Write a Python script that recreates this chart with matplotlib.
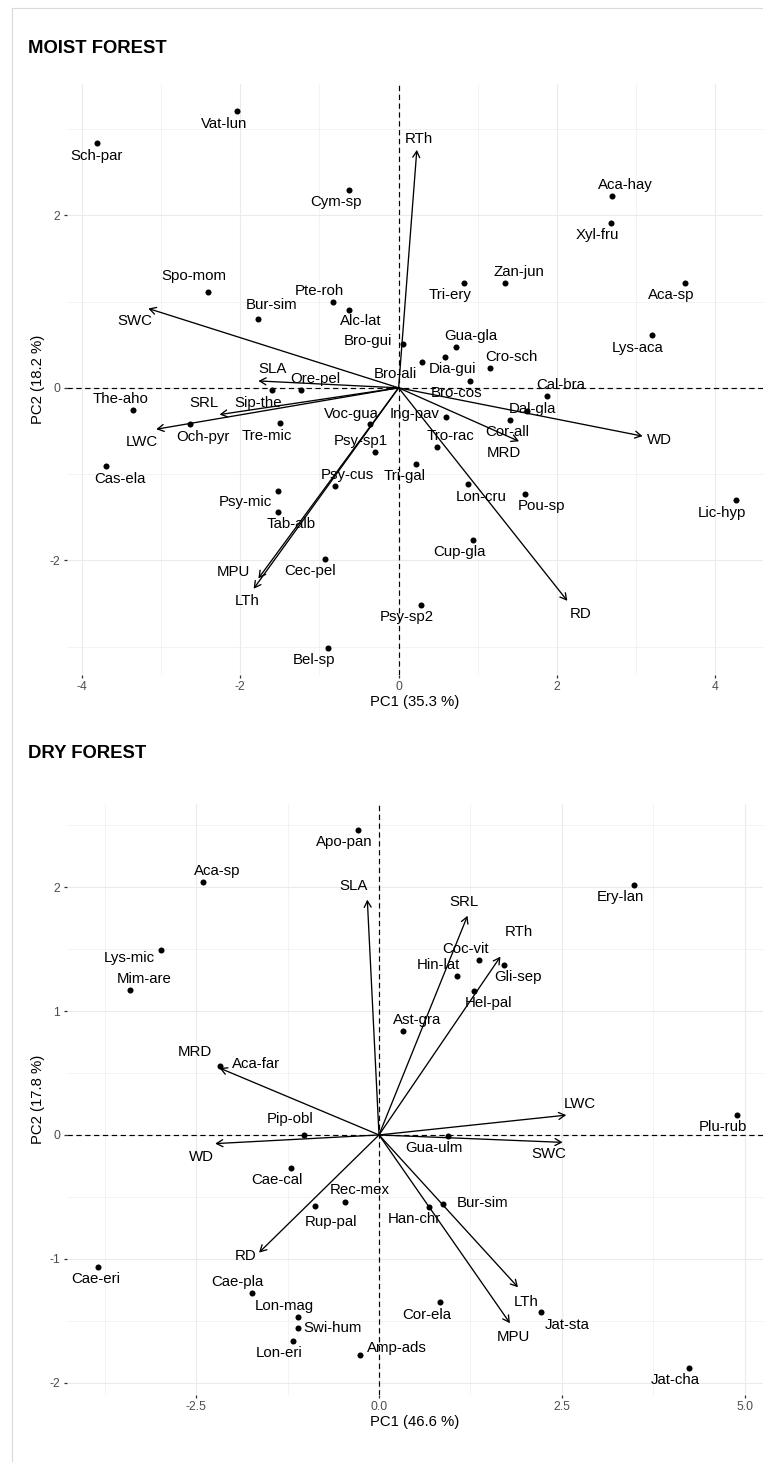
import matplotlib
matplotlib.use("Agg")
import matplotlib.pyplot as plt
from matplotlib.patches import FancyArrowPatch
from matplotlib.lines import Line2D

plt.rcParams['font.family'] = ['Liberation Sans', 'DejaVu Sans']
plt.rcParams['axes.unicode_minus'] = False

# ---------------- Moist forest PCA ----------------
moist_species = ["Vat-lun", "Sch-par", "Cym-sp", "Spo-mom", "Pte-roh", "Alc-lat", "Bur-sim",
                 "Bro-gui", "Aca-hay", "Xyl-fru", "Zan-jun", "Tri-ery", "Aca-sp", "Lys-aca",
                 "Gua-gla", "Dia-gui", "Bro-ali", "Cro-sch", "Bro-cos", "Cal-bra", "Dal-gla",
                 "Cor-all", "Ing-pav", "Tro-rac", "Tri-gal", "Lon-cru", "Pou-sp", "Lic-hyp",
                 "Cup-gla", "Psy-sp2", "Ore-pel", "Sip-the", "The-aho", "Och-pyr", "Tre-mic",
                 "Cas-ela", "Voc-gua", "Psy-sp1", "Psy-cus", "Psy-mic", "Tab-alb", "Cec-pel",
                 "Bel-sp"]
moist_pc1 = [-2.04, -3.81, -0.62, -2.41, -0.83, -0.63, -1.78,
             0.05, 2.69, 2.68, 1.34, 0.83, 3.62, 3.20,
             0.73, 0.58, 0.29, 1.15, 0.90, 1.87, 1.62,
             1.41, 0.60, 0.48, 0.22, 0.87, 1.59, 4.26,
             0.94, 0.28, -1.23, -1.60, -3.35, -2.63, -1.50,
             -3.69, -0.36, -0.30, -0.80, -1.52, -1.52, -0.93,
             -0.89]
moist_pc2 = [3.21, 2.84, 2.29, 1.11, 1.00, 0.90, 0.80,
             0.51, 2.22, 1.91, 1.21, 1.21, 1.21, 0.61,
             0.47, 0.36, 0.30, 0.23, 0.08, -0.09, -0.27,
             -0.37, -0.34, -0.69, -0.88, -1.11, -1.23, -1.30,
             -1.77, -2.52, -0.03, -0.03, -0.26, -0.42, -0.41,
             -0.91, -0.42, -0.74, -1.14, -1.20, -1.44, -1.98,
             -3.02]
moist_traits = ["RTh", "SWC", "SLA", "SRL", "LWC", "MPU", "LTh", "WD", "MRD", "RD"]
moist_trait_pc1 = [0.23, -3.16, -1.77, -2.26, -3.06, -1.77, -1.83, 3.08, 1.52, 2.13]
moist_trait_pc2 = [2.76, 0.92, 0.08, -0.31, -0.48, -2.21, -2.33, -0.56, -0.62, -2.47]
moist_var = (35.3, 18.2)
moist_xticks = [-4, -2, 0, 2, 4]
moist_xticklabels = ["-4", "-2", "0", "2", "4"]
moist_yticks = [-2, 0, 2]
moist_yticklabels = ["-2", "0", "2"]

# ---------------- Dry forest PCA ----------------
dry_species = ["Apo-pan", "Aca-sp", "Lys-mic", "Mim-are", "Aca-far", "Ery-lan", "Coc-vit",
               "Gli-sep", "Hin-lat", "Hel-pal", "Ast-gra", "Pip-obl", "Cae-cal", "Rec-mex",
               "Rup-pal", "Cae-eri", "Cae-pla", "Lon-mag", "Swi-hum", "Lon-eri", "Amp-ads",
               "Plu-rub", "Gua-ulm", "Han-chr", "Bur-sim", "Cor-ela", "Jat-sta", "Jat-cha"]
dry_pc1 = [-0.29, -2.40, -2.98, -3.40, -2.18, 3.49, 1.37,
           1.71, 1.06, 1.30, 0.33, -1.02, -1.21, -0.46,
           -0.88, -3.84, -1.74, -1.11, -1.11, -1.18, -0.26,
           4.89, 0.94, 0.68, 0.87, 0.84, 2.22, 4.24]
dry_pc2 = [2.46, 2.04, 1.49, 1.17, 0.56, 2.02, 1.41,
           1.37, 1.28, 1.16, 0.84, 0.00, -0.27, -0.54,
           -0.57, -1.07, -1.28, -1.47, -1.56, -1.66, -1.78,
           0.16, -0.01, -0.58, -0.56, -1.35, -1.43, -1.88]
dry_traits = ["SLA", "MRD", "SRL", "RTh", "LWC", "SWC", "LTh", "MPU", "WD", "RD"]
dry_trait_pc1 = [-0.16, -2.18, 1.21, 1.66, 2.56, 2.51, 1.90, 1.79, -2.24, -1.64]
dry_trait_pc2 = [1.90, 0.54, 1.77, 1.44, 0.16, -0.06, -1.23, -1.52, -0.07, -0.95]
dry_var = (46.6, 17.8)
dry_xticks = [-2.5, 0.0, 2.5, 5.0]
dry_xticklabels = ["-2.5", "0.0", "2.5", "5.0"]
dry_yticks = [-2, -1, 0, 1, 2]
dry_yticklabels = ["-2", "-1", "0", "1", "2"]

# Label placement (pixel offsets from the mark, x right / y down)
moist_label_offsets = {
    "Vat-lun": (-13, 13), "Sch-par": (0, 13), "Cym-sp": (-13, 12), "Spo-mom": (-14, -16),
    "Pte-roh": (-13, -11), "Alc-lat": (12, 11), "Bur-sim": (14, -14), "Bro-gui": (-35, -3),
    "Aca-hay": (14, -11), "Xyl-fru": (-14, 12), "Zan-jun": (14, -11), "Tri-ery": (-14, 12),
    "Aca-sp": (-14, 12), "Lys-aca": (-14, 13), "Gua-gla": (14, -11), "Dia-gui": (8, 12),
    "Bro-ali": (-26, 12), "Cro-sch": (22, -11), "Bro-cos": (-13, 12), "Cal-bra": (14, -11),
    "Dal-gla": (5, -2), "Cor-all": (-3, 12), "Ing-pav": (-32, -3), "Tro-rac": (14, -11),
    "Tri-gal": (-11, 12), "Lon-cru": (14, 13), "Pou-sp": (17, 12), "Lic-hyp": (-14, 13),
    "Cup-gla": (-14, 12), "Psy-sp2": (-14, 12), "Ore-pel": (14, -11), "Sip-the": (-14, 13),
    "The-aho": (-13, -11), "Och-pyr": (13, 13), "Tre-mic": (-13, 13), "Cas-ela": (14, 13),
    "Voc-gua": (-19, -10), "Psy-sp1": (-14, -11), "Psy-cus": (12, -11), "Psy-mic": (-33, 11),
    "Tab-alb": (13, 12), "Cec-pel": (-15, 12), "Bel-sp": (-14, 12),
}
moist_trait_offsets = {
    "RTh": (2, -11), "SWC": (-13, 12), "SLA": (14, -12), "SRL": (-16, -12), "LWC": (-14, 13),
    "MPU": (-25, -6), "LTh": (-6, 12), "WD": (17, 4), "MRD": (-15, 12), "RD": (13, 13),
}
dry_label_offsets = {
    "Apo-pan": (-14, 12), "Aca-sp": (14, -11), "Lys-mic": (-32, 8), "Mim-are": (14, -11),
    "Aca-far": (36, -2), "Ery-lan": (-14, 12), "Coc-vit": (-14, -11), "Gli-sep": (14, 12),
    "Hin-lat": (-18, -11), "Hel-pal": (14, 12), "Ast-gra": (14, -11), "Pip-obl": (-14, -16),
    "Cae-cal": (-14, 12), "Rec-mex": (14, -12), "Rup-pal": (16, 16), "Cae-eri": (-2, 12),
    "Cae-pla": (-14, -11), "Lon-mag": (-14, -11), "Swi-hum": (35, 0), "Lon-eri": (-14, 12),
    "Amp-ads": (37, -7), "Plu-rub": (-14, 12), "Gua-ulm": (-14, 12), "Han-chr": (-14, 12),
    "Bur-sim": (40, -1), "Cor-ela": (-14, 13), "Jat-sta": (26, 13), "Jat-cha": (-14, 12),
}
dry_trait_offsets = {
    "SLA": (-14, -14), "MRD": (-25, -16), "SRL": (-4, -14), "RTh": (18, -25), "LWC": (14, -11),
    "SWC": (-14, 12), "LTh": (8, 15), "MPU": (3, 14), "WD": (-14, 13), "RD": (-13, 3),
}

W, H, DPI = 763, 1462, 100
fig = plt.figure(figsize=(W / DPI, H / DPI), dpi=DPI)
fig.patch.set_facecolor("white")

# thin light frame around the figure
fig.add_artist(Line2D([12.3 / W, 12.3 / W], [0, 1 - 8 / H], transform=fig.transFigure,
                      color="#D9D9D9", lw=0.8))
fig.add_artist(Line2D([12.3 / W, 1], [1 - 8 / H, 1 - 8 / H], transform=fig.transFigure,
                      color="#D9D9D9", lw=0.8))

TXT = 10.8


def px_axes(left, top, right, bottom):
    return fig.add_axes([left / W, 1 - bottom / H, (right - left) / W, (bottom - top) / H])


def draw_panel(ax, title, title_base, species, pc1, pc2, lab_off,
               traits, tpc1, tpc2, trait_off, var, xlim, ylim,
               xticks, xticklabels, yticks, yticklabels, xminor, yminor):
    ax.set_xlim(*xlim)
    ax.set_ylim(*ylim)
    for s in ax.spines.values():
        s.set_visible(False)
    ax.set_xticks(xticks)
    ax.set_xticklabels(xticklabels)
    ax.set_yticks(yticks)
    ax.set_yticklabels(yticklabels)
    ax.set_xticks(xminor, minor=True)
    ax.set_yticks(yminor, minor=True)
    ax.tick_params(which="major", direction="out", length=2.5, width=0.9, color="#333333",
                   labelcolor="#4D4D4D", labelsize=8.7)
    ax.tick_params(axis="x", which="major", pad=1.5)
    ax.tick_params(axis="y", which="major", pad=2.2)
    ax.tick_params(which="minor", length=0)
    ax.grid(which="major", color="#EBEBEB", lw=0.85)
    ax.grid(which="minor", color="#EFEFEF", lw=0.5)
    ax.set_axisbelow(True)

    ax.axhline(0, color="black", lw=0.85, ls=(0, (4.5, 3)), zorder=2)
    ax.axvline(0, color="black", lw=0.85, ls=(0, (4.5, 3)), zorder=2)

    for name, x, y in zip(traits, tpc1, tpc2):
        arr = FancyArrowPatch((0, 0), (x, y), arrowstyle="->,head_length=0.45,head_width=0.25",
                              mutation_scale=10, lw=0.95, color="black",
                              shrinkA=0, shrinkB=0, zorder=3)
        ax.add_patch(arr)
        dx, dy = trait_off[name]
        ax.annotate(name, (x, y), xytext=(dx, -dy), textcoords="offset pixels",
                    ha="center", va="center", fontsize=TXT, color="black", zorder=5)

    ax.scatter(pc1, pc2, s=19, color="black", zorder=4, linewidths=0)
    for name, x, y in zip(species, pc1, pc2):
        dx, dy = lab_off[name]
        ax.annotate(name, (x, y), xytext=(dx, -dy), textcoords="offset pixels",
                    ha="center", va="center", fontsize=TXT, color="black", zorder=5)

    ax.set_xlabel(f"PC1 ({var[0]} %)", fontsize=10.7, color="black")
    ax.set_ylabel(f"PC2 ({var[1]} %)", fontsize=10.7, color="black")
    ax.xaxis.label.set_va("center")
    ax.yaxis.label.set_va("center")
    ax.xaxis.set_label_coords(0.5, -0.046)
    ax.yaxis.set_label_coords(-0.0408, 0.5)

    fig.text(28.5 / W, 1 - title_base / H, title, fontsize=13.3, fontweight="bold",
             ha="left", va="baseline", color="black")


ax1 = px_axes(66.7, 84.3, 763, 675)
draw_panel(ax1, "MOIST FOREST", 53.3, moist_species, moist_pc1, moist_pc2, moist_label_offsets,
           moist_traits, moist_trait_pc1, moist_trait_pc2, moist_trait_offsets, moist_var,
           (-4.19, 4.60), (-3.33, 3.52), moist_xticks, moist_xticklabels,
           moist_yticks, moist_yticklabels, [-3, -1, 1, 3], [-3, -1, 1, 3])

ax2 = px_axes(66.7, 804.3, 763, 1395)
draw_panel(ax2, "DRY FOREST", 758.3, dry_species, dry_pc1, dry_pc2, dry_label_offsets,
           dry_traits, dry_trait_pc1, dry_trait_pc2, dry_trait_offsets, dry_var,
           (-4.27, 5.25), (-2.10, 2.67), dry_xticks, dry_xticklabels,
           dry_yticks, dry_yticklabels, [-3.75, -1.25, 1.25, 3.75], [-1.5, -0.5, 0.5, 1.5, 2.5])

fig.savefig("out.png", dpi=DPI)
